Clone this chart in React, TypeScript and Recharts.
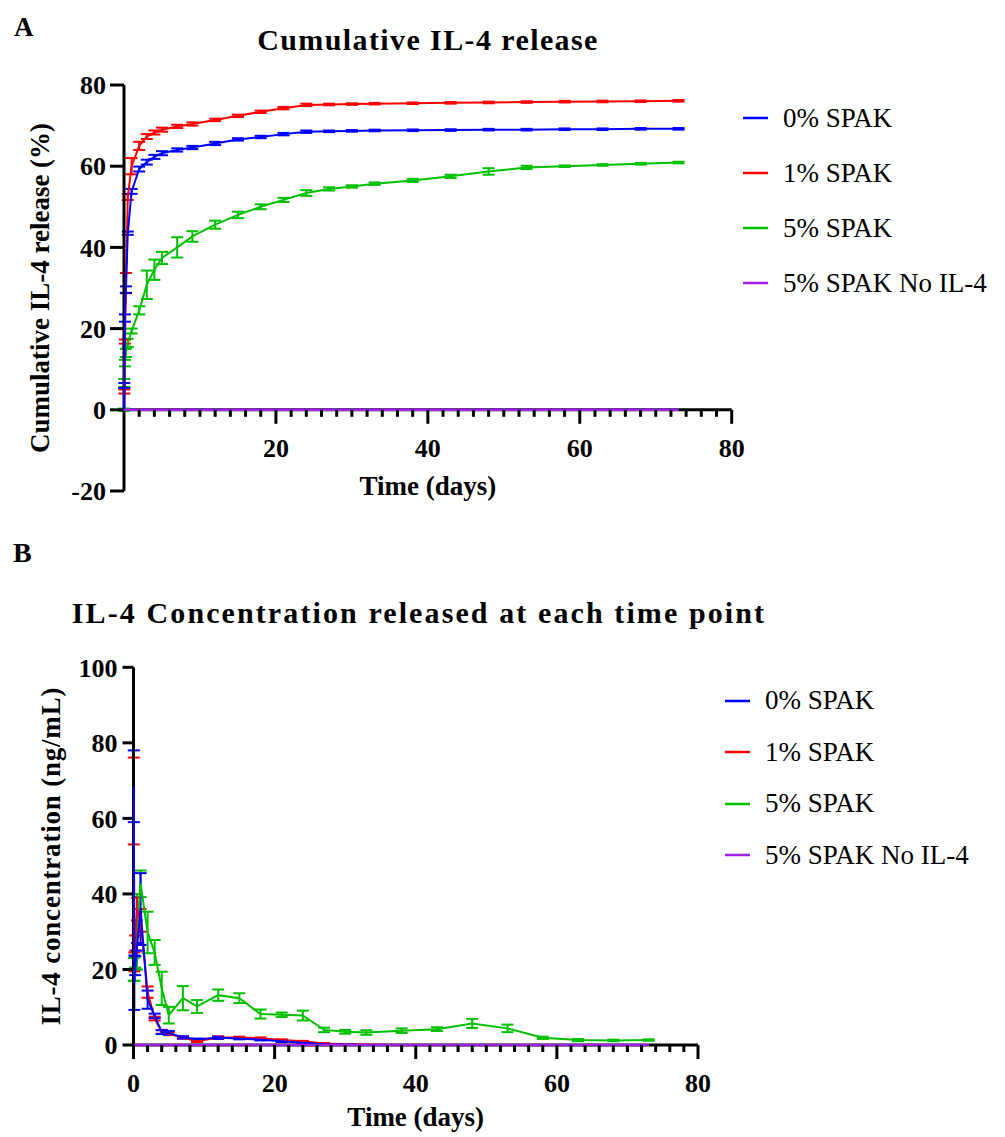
import React from 'react';
import { LineChart, Line, XAxis, YAxis, ErrorBar, Legend, ReferenceLine, Label } from 'recharts';

const FONT = '"Liberation Serif", "Times New Roman", serif';

const seriesNames = ['0% SPAK', '1% SPAK', '5% SPAK', '5% SPAK No IL-4'];
const seriesColors = ['#0000ff', '#ff0000', '#00c000', '#a020f0'];

// Panel A - cumulative release (%)
const daysA = [0, 0.04, 0.125, 0.25, 0.5, 1, 2, 3, 4, 5, 7, 9, 12, 15, 18, 21, 24, 27, 30, 33, 38, 43, 48, 53, 58, 63, 68, 73];
const cumBlue = [0, 6, 22.6, 29.6, 43.5, 53.8, 59.3, 61, 62.3, 63.2, 64, 64.6, 65.6, 66.6, 67.2, 67.9, 68.5, 68.6, 68.7, 68.8, 68.85, 68.9, 69, 69, 69.1, 69.1, 69.2, 69.2];
const cumBlueSd = [0, 0.6, 0.9, 0.8, 0.4, 0.6, 0.6, 0.6, 0.5, 0.5, 0.4, 0.4, 0.4, 0.3, 0.3, 0.3, 0.3, 0.2, 0.2, 0.2, 0.2, 0.2, 0.2, 0.2, 0.2, 0.2, 0.2, 0.2];
const cumRed = [0, 4.5, 16.8, 31.2, 52.4, 60, 65, 67.3, 68.3, 69, 69.8, 70.4, 71.4, 72.4, 73.4, 74.3, 75.1, 75.2, 75.3, 75.4, 75.5, 75.6, 75.7, 75.8, 75.9, 75.95, 76, 76.1];
const cumRedSd = [0, 0.5, 0.5, 2.5, 0.7, 2, 1, 0.6, 0.5, 0.5, 0.4, 0.4, 0.3, 0.3, 0.3, 0.3, 0.3, 0.2, 0.2, 0.2, 0.2, 0.2, 0.2, 0.2, 0.2, 0.2, 0.2, 0.2];
const cumGreen = [0, 6.6, 11.5, 14, 16.5, 19.4, 24.5, 30.8, 34.5, 37.4, 40, 42.7, 45.6, 48, 50, 51.7, 53.4, 54.4, 55, 55.7, 56.5, 57.5, 58.7, 59.7, 60, 60.3, 60.6, 60.9];
const cumGreenSd = [0.3, 1, 0.8, 1, 1, 0.6, 1, 3.5, 2.5, 1.5, 2.5, 1.3, 1, 0.8, 0.6, 0.5, 0.7, 0.4, 0.3, 0.3, 0.4, 0.4, 0.8, 0.4, 0.2, 0.2, 0.2, 0.2];
const cumPurple = [0, 0, 0, 0, 0, 0, 0, 0, 0, 0, 0, 0, 0, 0, 0, 0, 0, 0, 0, 0, 0, 0, 0, 0, 0, 0, 0, 0];

// Panel B - concentration at each time point (ng/mL)
const daysB = [0.04, 0.125, 0.25, 0.5, 1, 2, 3, 4, 5, 7, 9, 12, 15, 18, 21, 24, 27, 30, 33, 38, 43, 48, 53, 58, 63, 68, 73];
const concBlue = [68.5, 16.5, 21, 26, 36, 12, 7.7, 3.4, 3.2, 2, 1.5, 1.9, 1.7, 1.4, 1, 0.6, 0.2, 0.1, 0, 0, 0, 0, 0, 0, 0, 0, 0];
const concBlueSd = [9.5, 7.2, 2.5, 1, 9.5, 2.4, 0.6, 0.5, 0.5, 0.3, 0.2, 0.3, 0.2, 0.2, 0.2, 0.1, 0.1, 0, 0, 0, 0, 0, 0, 0, 0, 0, 0];
const concRed = [64.6, 22, 27, 36, 33, 14, 7, 3.5, 3, 2, 1, 2, 2, 1.8, 1.3, 1, 0.4, 0.2, 0.1, 0, 0, 0, 0, 0, 0, 0, 0];
const concRedSd = [11.5, 2.5, 2, 3, 3, 1.5, 0.5, 0.5, 0.4, 0.3, 0.2, 0.3, 0.2, 0.2, 0.2, 0.1, 0.1, 0, 0, 0, 0, 0, 0, 0, 0, 0, 0];
const concGreen = [20, 18.5, 22, 30, 42.7, 29.8, 24.5, 15, 7.9, 12.4, 10.2, 13.2, 12.4, 8.2, 8, 7.8, 4, 3.5, 3.3, 3.8, 4.2, 5.7, 4.4, 1.9, 1.3, 1.2, 1.3];
const concGreenSd = [3, 1.5, 1.5, 10, 3.5, 5.5, 3.3, 4.4, 2.2, 3.2, 1.7, 1.5, 1.3, 1.2, 0.6, 1.3, 0.6, 0.5, 0.6, 0.6, 0.5, 1.2, 1, 0.3, 0.3, 0.2, 0.2];
const concPurple = [0, 0, 0, 0, 0, 0, 0, 0, 0, 0, 0, 0, 0, 0, 0, 0, 0, 0, 0, 0, 0, 0, 0, 0, 0, 0, 0];

const xTicks = [0, 2, 4, 6, 8, 10, 12, 14, 16, 18, 20, 22, 24, 26, 28, 30, 32, 34, 36, 38, 40, 42, 44, 46, 48, 50, 52, 54, 56, 58, 60, 62, 64, 66, 68, 70, 72, 74, 76, 78, 80];
const yTicksA = [-20, 0, 20, 40, 60, 80];
const yTicksB = [0, 20, 40, 60, 80, 100];

const rowsA = daysA.map((t, i) => ({
  t,
  s0: cumBlue[i], e0: cumBlueSd[i],
  s1: cumRed[i], e1: cumRedSd[i],
  s2: cumGreen[i], e2: cumGreenSd[i],
  s3: cumPurple[i],
}));

const rowsB = daysB.map((t, i) => ({
  t,
  s0: concBlue[i], e0: concBlueSd[i],
  s1: concRed[i], e1: concRedSd[i],
  s2: concGreen[i], e2: concGreenSd[i],
  s3: concPurple[i],
}));

// layout
const W = 1005;
const H_A = 540;
const H_B = 577;
const YW = 70;
const MARGIN_A = { top: 85, left: 54, right: 273.3, bottom: 19 };
const MARGIN_B = { top: 107.3, left: 63.5, right: 307, bottom: 32 };
const PLOT_H_A = H_A - MARGIN_A.top - MARGIN_A.bottom - 30;
const LIFT_A = (PLOT_H_A * 20) / 100; // x axis sits at y = 0, not at the bottom

const XTick = (props: any) => {
  const { x, y, payload, lift, showZero } = props;
  const v = payload.value;
  if (v === 0 && !showZero) return <g />;
  const major = v % 20 === 0;
  const y0 = y - lift;
  return (
    <g>
      <line x1={x} x2={x} y1={y0} y2={y0 + (major ? 14 : 7)} stroke="#000" strokeWidth={3} />
      {major && (
        <text x={x} y={y0 + 47} textAnchor="middle" fontSize={26} fontWeight="bold" fontFamily={FONT} fill="#000">
          {v}
        </text>
      )}
    </g>
  );
};

const YTitle = (props: any) => {
  const { viewBox, text, gap, spacing } = props;
  const cx = viewBox.x + viewBox.width - gap;
  const cy = viewBox.y + viewBox.height / 2;
  return (
    <text
      x={cx}
      y={cy}
      transform={`rotate(-90 ${cx} ${cy})`}
      textAnchor="middle"
      dominantBaseline="central"
      fontSize={27}
      fontWeight="bold"
      fontFamily={FONT}
      letterSpacing={spacing}
      fill="#000"
    >
      {text}
    </text>
  );
};

const XTitle = (props: any) => {
  const { viewBox, text, off } = props;
  return (
    <text
      x={viewBox.x + viewBox.width / 2}
      y={viewBox.y + off}
      textAnchor="middle"
      dominantBaseline="central"
      fontSize={27}
      fontWeight="bold"
      fontFamily={FONT}
      fill="#000"
    >
      {text}
    </text>
  );
};

const legendContent = (rowH: number, gap: number) => (props: any) => {
  const items = [...(props.payload || [])].sort(
    (a: any, b: any) => seriesNames.indexOf(a.value) - seriesNames.indexOf(b.value)
  );
  return (
    <div>
      {items.map((p: any) => (
        <div key={p.value} style={{ display: 'flex', alignItems: 'center', height: rowH }}>
          <svg width={25} height={4}>
            <line x1={0} x2={25} y1={2} y2={2} stroke={p.color} strokeWidth={2.5} />
          </svg>
          <span style={{ marginLeft: gap, fontSize: 27, fontFamily: FONT, color: '#000', whiteSpace: 'nowrap' }}>
            {p.value}
          </span>
        </div>
      ))}
    </div>
  );
};

const tickStyle = { fill: '#000', fontSize: 26, fontWeight: 'bold', fontFamily: FONT };
const order = [2, 1, 0, 3];

const renderLines = () =>
  order.map((k) => (
    <Line
      key={k}
      type="linear"
      dataKey={`s${k}`}
      name={seriesNames[k]}
      stroke={seriesColors[k]}
      strokeWidth={k === 3 ? 2.5 : 2}
      dot={false}
      isAnimationActive={false}
      zIndex={600}
    >
      {k < 3 && (
        <ErrorBar
          dataKey={`e${k}`}
          direction="y"
          width={6}
          stroke={seriesColors[k]}
          strokeWidth={2}
          isAnimationActive={false}
        />
      )}
    </Line>
  ));

export default function App() {
  return (
    <div style={{ position: 'absolute', left: 0, top: 0, width: W, height: 1137, background: '#fff' }}>
      <svg width={W} height={1137} style={{ position: 'absolute', left: 0, top: 0, pointerEvents: 'none' }}>
        <text x={14} y={36} fontSize={27} fontWeight="bold" fontFamily={FONT} fill="#000">A</text>
        <text x={428} y={50} textAnchor="middle" fontSize={30} fontWeight="bold" fontFamily={FONT} letterSpacing={1.4} fill="#000">
          Cumulative IL-4 release
        </text>
        <text x={13} y={562} fontSize={28} fontWeight="bold" fontFamily={FONT} fill="#000">B</text>
        <text x={419} y={623} textAnchor="middle" fontSize={30} fontWeight="bold" fontFamily={FONT} letterSpacing={2.1} fill="#000">
          IL-4 Concentration released at each time point
        </text>
      </svg>

      <div style={{ position: 'absolute', left: 0, top: 0 }}>
        <LineChart width={W} height={H_A} data={rowsA} margin={MARGIN_A}>
          <ReferenceLine y={0} stroke="#000" strokeWidth={3} zIndex={50} />
          <XAxis
            type="number"
            dataKey="t"
            domain={[0, 80]}
            ticks={xTicks}
            interval={0}
            height={30}
            axisLine={false}
            tickLine={false}
            tickSize={0}
            tickMargin={0}
            tick={<XTick lift={LIFT_A} showZero={false} />}
          >
            <Label content={(p: any) => <XTitle {...p} text="Time (days)" off={-5} />} />
          </XAxis>
          <YAxis
            type="number"
            domain={[-20, 80]}
            ticks={yTicksA}
            interval={0}
            width={YW}
            axisLine={{ stroke: '#000', strokeWidth: 3 }}
            tickLine={{ stroke: '#000', strokeWidth: 3 }}
            tickSize={14}
            tickMargin={4}
            tick={tickStyle}
          >
            <Label content={(p: any) => <YTitle {...p} text="Cumulative IL-4 release (%)" gap={84} spacing={0} />} />
          </YAxis>
          {renderLines()}
          <Legend
            layout="vertical"
            align="center"
            verticalAlign="middle"
            wrapperStyle={{ left: 743, top: 90.5, width: 262 }}
            content={legendContent(55, 15)}
          />
        </LineChart>
      </div>

      <div style={{ position: 'absolute', left: 0, top: 560 }}>
        <LineChart width={W} height={H_B} data={rowsB} margin={MARGIN_B}>
          <XAxis
            type="number"
            dataKey="t"
            domain={[0, 80]}
            ticks={xTicks}
            interval={0}
            height={60}
            axisLine={{ stroke: '#000', strokeWidth: 3 }}
            tickLine={false}
            tickSize={0}
            tickMargin={0}
            tick={<XTick lift={0} showZero />}
            zIndex={50}
          >
            <Label content={(p: any) => <XTitle {...p} text="Time (days)" off={72} />} />
          </XAxis>
          <YAxis
            type="number"
            domain={[0, 100]}
            ticks={yTicksB}
            interval={0}
            width={YW}
            axisLine={{ stroke: '#000', strokeWidth: 3 }}
            tickLine={{ stroke: '#000', strokeWidth: 3 }}
            tickSize={11}
            tickMargin={5}
            tick={tickStyle}
          >
            <Label content={(p: any) => <YTitle {...p} text="IL-4 concentration (ng/mL)" gap={82} spacing={0.8} />} />
          </YAxis>
          {renderLines()}
          <Legend
            layout="vertical"
            align="center"
            verticalAlign="middle"
            wrapperStyle={{ left: 725, top: 115.3, width: 280 }}
            content={legendContent(51.4, 15)}
          />
        </LineChart>
      </div>
    </div>
  );
}
